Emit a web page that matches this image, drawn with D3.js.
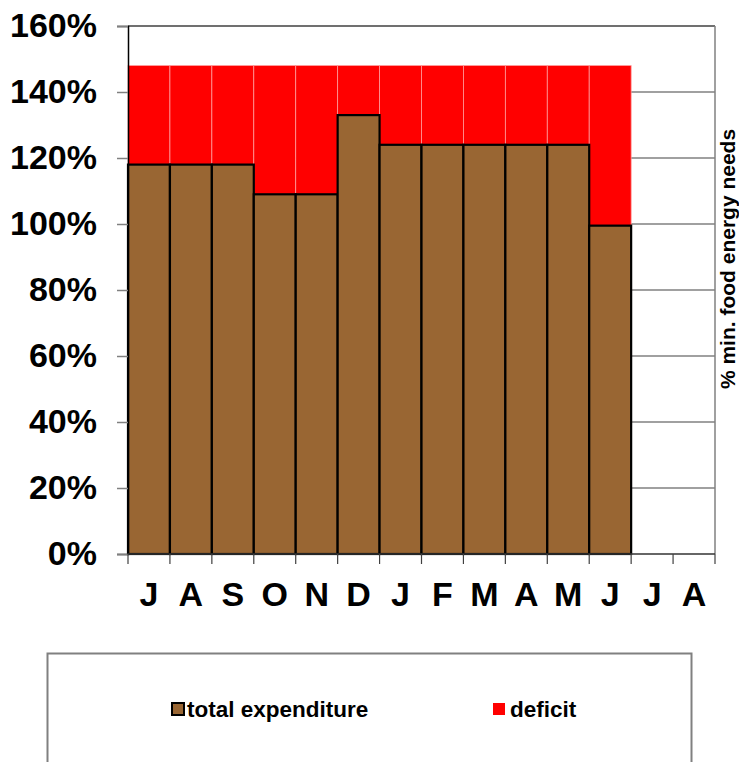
<!DOCTYPE html>
<html>
<head>
<meta charset="utf-8">
<script src="https://cdn.jsdelivr.net/npm/d3@7"></script>
<style>
  html, body { margin: 0; padding: 0; background: #fff; }
  svg { display: block; font-family: "Liberation Sans", Arial, sans-serif; }
</style>
</head>
<body>
<svg id="chart" width="739" height="762"></svg>
<script>
const months = ["J", "A", "S", "O", "N", "D", "J", "F", "M", "A", "M", "J", "J", "A"];
const expenditure = [118, 118, 118, 109, 109, 133, 124, 124, 124, 124, 124, 99.5];
const deficit = [30, 30, 30, 39, 39, 15, 24, 24, 24, 24, 24, 48.5];
const yTicks = [0, 20, 40, 60, 80, 100, 120, 140, 160];
const seriesNames = ["total expenditure", "deficit"];
const seriesColors = ["#996633", "#ff0000"];
const axisTitle = "% min. food energy needs";

const svg = d3.select("#chart");
const pLeft = 128, pRight = 715, pTop = 26, pBottom = 554;

const x = d3.scaleBand().domain(d3.range(months.length)).range([pLeft, pRight]).padding(0);
const y = d3.scaleLinear().domain([0, 160]).range([pBottom, pTop]);

// gridlines
svg.append("g").selectAll("line").data(yTicks.filter(d => d > 0 && d < 160)).join("line")
  .attr("x1", pLeft).attr("x2", pRight)
  .attr("y1", d => y(d)).attr("y2", d => y(d))
  .attr("stroke", "#808080").attr("stroke-width", 1.5);

// top & right border
svg.append("line").attr("x1", pLeft).attr("x2", pRight).attr("y1", y(160)).attr("y2", y(160))
  .attr("stroke", "#404040").attr("stroke-width", 1.5);
svg.append("line").attr("x1", pRight).attr("x2", pRight).attr("y1", pTop).attr("y2", pBottom)
  .attr("stroke", "#808080").attr("stroke-width", 1.5);

// deficit bars (stacked on expenditure)
svg.append("g").selectAll("rect").data(deficit).join("rect")
  .attr("x", (d, i) => x(i))
  .attr("y", (d, i) => y(expenditure[i] + d))
  .attr("width", x.bandwidth())
  .attr("height", (d, i) => y(expenditure[i]) - y(expenditure[i] + d))
  .attr("fill", seriesColors[1])
  .attr("stroke", "#ff9a9a").attr("stroke-width", 0.8);

// expenditure bars
svg.append("g").selectAll("rect").data(expenditure).join("rect")
  .attr("x", (d, i) => x(i))
  .attr("y", d => y(d))
  .attr("width", x.bandwidth())
  .attr("height", d => y(0) - y(d))
  .attr("fill", seriesColors[0])
  .attr("stroke", "#000").attr("stroke-width", 2.2);

// y axis
const yAxis = svg.append("g").attr("transform", `translate(${pLeft},0)`)
  .call(d3.axisLeft(y).tickValues(yTicks).tickFormat(d => d + "%").tickSize(11).tickPadding(20));
yAxis.select(".domain").attr("stroke", "#000").attr("stroke-width", 1.5);
yAxis.selectAll(".tick line").attr("stroke", "#808080").attr("stroke-width", 1.5);
yAxis.selectAll(".tick text").attr("font-size", "34px").attr("font-weight", "bold")
  .attr("fill", "#000").attr("font-family", "Liberation Sans, Arial, sans-serif");

// x axis
const xAxis = svg.append("g").attr("transform", `translate(0,${pBottom})`)
  .call(d3.axisBottom(x).tickFormat(i => months[i]).tickSize(0).tickPadding(28));
xAxis.select(".domain").remove();
xAxis.selectAll(".tick text").attr("font-size", "34px").attr("font-weight", "bold")
  .attr("fill", "#000").attr("font-family", "Liberation Sans, Arial, sans-serif");
svg.append("line").attr("x1", pLeft).attr("x2", pRight).attr("y1", pBottom).attr("y2", pBottom)
  .attr("stroke", "#333").attr("stroke-width", 1.5);
// tick marks at category boundaries
svg.append("g").selectAll("line").data(d3.range(months.length + 1)).join("line")
  .attr("x1", i => i < months.length ? x(i) : pRight)
  .attr("x2", i => i < months.length ? x(i) : pRight)
  .attr("y1", pBottom).attr("y2", pBottom + 10)
  .attr("stroke", "#404040").attr("stroke-width", 1.2);

// right axis title
svg.append("text")
  .attr("transform", `translate(734.5,259) rotate(-90)`)
  .attr("text-anchor", "middle")
  .attr("font-size", "21px").attr("font-weight", "bold")
  .text(axisTitle);

// legend
svg.append("rect").attr("x", 47.5).attr("y", 653.5).attr("width", 644).attr("height", 130)
  .attr("fill", "none").attr("stroke", "#808080").attr("stroke-width", 2);
const legendX = [172, 493];
const lg = svg.append("g").selectAll("g").data(seriesNames).join("g")
  .attr("transform", (d, i) => `translate(${legendX[i]},703)`);
lg.append("rect").attr("width", 12).attr("height", 12)
  .attr("fill", (d, i) => seriesColors[i])
  .attr("stroke", (d, i) => i === 0 ? "#000" : "none").attr("stroke-width", 2);
lg.append("text").attr("x", (d, i) => i === 0 ? 15 : 17).attr("y", 13.5)
  .attr("font-size", "22.5px").attr("font-weight", "bold")
  .text(d => d);
</script>
</body>
</html>
